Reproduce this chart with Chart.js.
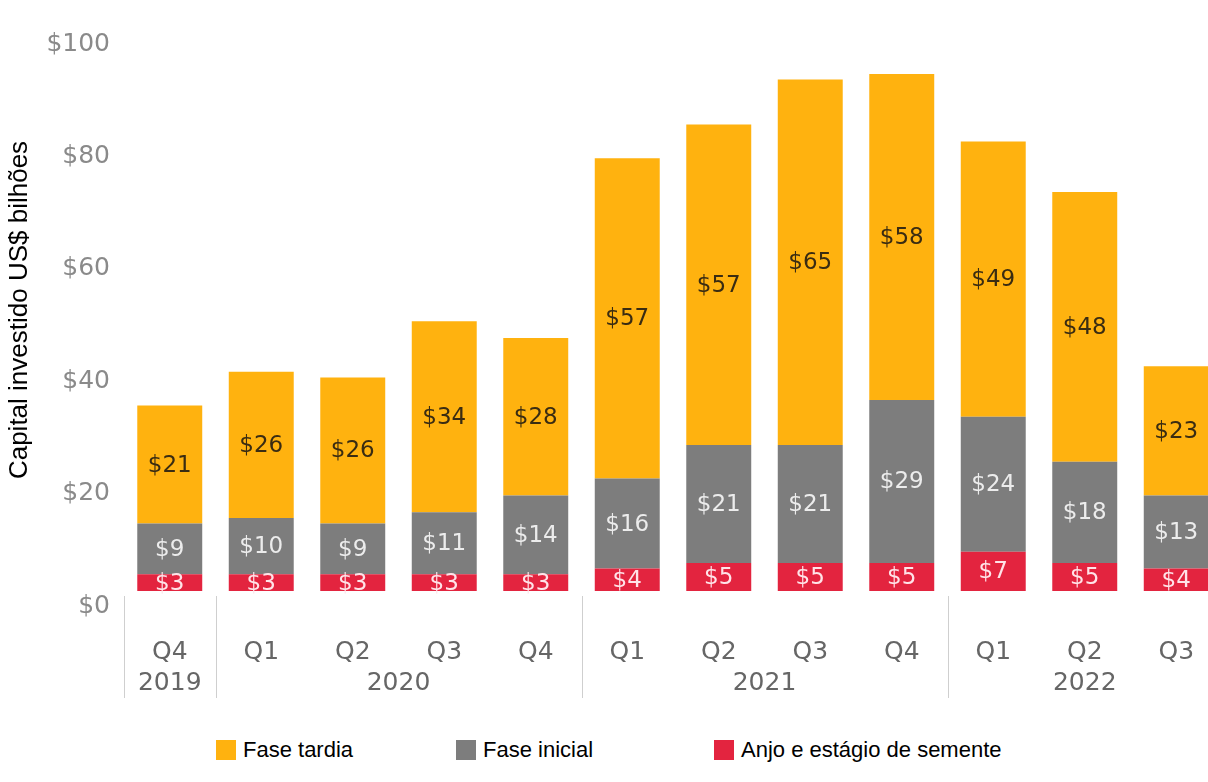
<!DOCTYPE html>
<html lang="pt-BR">
<head>
<meta charset="utf-8">
<script src="https://cdn.jsdelivr.net/npm/chart.js@4"></script>
<style>
  html, body { margin: 0; padding: 0; background: #fff; overflow: hidden; }
  #wrap { position: relative; width: 1222px; height: 712px; }
  .legenda { position: absolute; top: 738px; left: 0; width: 1208px; height: 26px;
             font: 22px "Liberation Sans", Arial, sans-serif; color: #000; }
  .legenda span { position: absolute; top: 0; white-space: nowrap; line-height: 24px; }
  .legenda i { display: inline-block; width: 20px; height: 20px; vertical-align: -3px; margin-right: 7px; }
</style>
</head>
<body>
<div id="wrap"><canvas id="grafico"></canvas></div>
<div class="legenda" id="legenda"></div>

<script>
// trimestres e anos (eixo x em dois níveis)
const trimestres = ['Q4', 'Q1', 'Q2', 'Q3', 'Q4', 'Q1', 'Q2', 'Q3', 'Q4', 'Q1', 'Q2', 'Q3'];
const anos = ['2019', '2020', '2020', '2020', '2020', '2021', '2021', '2021', '2021', '2022', '2022', '2022'];

// capital investido, US$ bilhões
const faseTardia = [21, 26, 26, 34, 28, 57, 57, 65, 58, 49, 48, 23];
const faseInicial = [9, 10, 9, 11, 14, 16, 21, 21, 29, 24, 18, 13];
const anjoSemente = [3, 3, 3, 3, 3, 4, 5, 5, 5, 7, 5, 4];

const ticksY = [0, 20, 40, 60, 80, 100];

const cores = { tardia: '#ffb20f', inicial: '#7d7d7d', semente: '#e3243f' };
const corRotulo = ['#ffe3e8', '#ececec', '#3a2c12'];
const fonteEixo = '"DejaVu Sans", sans-serif';

// rótulos de valor dentro das barras + anos e separadores do eixo x
const rotulosPlugin = {
    id: 'rotulos',
    afterDatasetsDraw(chart) {
        const ctx = chart.ctx;
        ctx.save();
        ctx.font = '23px ' + fonteEixo;
        ctx.textAlign = 'center';
        ctx.textBaseline = 'middle';
        chart.data.datasets.forEach((ds, i) => {
            chart.getDatasetMeta(i).data.forEach((bar, j) => {
                ctx.fillStyle = corRotulo[i];
                ctx.fillText('$' + ds.data[j], bar.x, (bar.y + bar.base) / 2 + 1);
            });
        });

        const x = chart.scales.x;
        const meio = (x.getPixelForValue(1) - x.getPixelForValue(0)) / 2;
        const base = chart.chartArea.bottom;
        ctx.font = '25px ' + fonteEixo;
        let inicio = 0;
        for (let i = 1; i <= anos.length; i++) {
            if (i === anos.length || anos[i] !== anos[inicio]) {
                const esq = x.getPixelForValue(inicio) - meio;
                const dir = x.getPixelForValue(i - 1) + meio;
                ctx.strokeStyle = '#cfcfcf';
                ctx.lineWidth = 1;
                ctx.beginPath();
                ctx.moveTo(Math.round(esq) + 0.5, base + 5);
                ctx.lineTo(Math.round(esq) + 0.5, base + 107);
                ctx.stroke();
                ctx.fillStyle = '#666';
                ctx.fillText(anos[inicio], (esq + dir) / 2, base + 92);
                inicio = i;
            }
        }
        ctx.restore();
    }
};

const config = {
    type: 'bar',
    data: {
        labels: trimestres,
        datasets: [
            { label: 'Anjo e estágio de semente', data: anjoSemente, backgroundColor: cores.semente },
            { label: 'Fase inicial', data: faseInicial, backgroundColor: cores.inicial },
            { label: 'Fase tardia', data: faseTardia, backgroundColor: cores.tardia }
        ]
    },
    options: {
        responsive: false,
        animation: false,
        layout: { padding: { top: 26, left: 0, right: 0, bottom: 0 } },
        datasets: { bar: { categoryPercentage: 0.71, barPercentage: 1 } },
        scales: {
            x: {
                stacked: true,
                grid: { display: false, drawTicks: false },
                border: { display: false },
                ticks: { color: '#666', font: { size: 25, family: fonteEixo }, padding: 46 },
                afterFit(scale) {
                    scale.height = 121;
                    scale.paddingLeft = 0;
                    scale.paddingRight = 0;
                }
            },
            y: {
                stacked: true,
                min: 0,
                max: 100,
                afterBuildTicks(scale) { scale.ticks = ticksY.map(v => ({ value: v })); },
                grid: { display: false, drawTicks: false },
                border: { display: false },
                ticks: {
                    color: '#8a8a8a',
                    font: { size: 25, family: fonteEixo },
                    padding: 14,
                    labelOffset: 15,
                    callback: v => '$' + v
                },
                title: {
                    display: true,
                    text: 'Capital investido US$ bilhões',
                    color: '#000',
                    font: { size: 26, family: '"Liberation Sans", Arial, sans-serif' },
                    padding: { top: 4, bottom: 0 }
                },
                afterFit(scale) { scale.width = 124; }
            }
        },
        plugins: {
            legend: { display: false },
            tooltip: { enabled: false }
        }
    },
    plugins: [rotulosPlugin]
};

const canvas = document.getElementById('grafico');
canvas.width = 1222;
canvas.height = 712;
new Chart(canvas.getContext('2d'), config);

// legenda na ordem do gráfico original
const itens = [
    { texto: 'Fase tardia', cor: cores.tardia, x: 216 },
    { texto: 'Fase inicial', cor: cores.inicial, x: 456 },
    { texto: 'Anjo e estágio de semente', cor: cores.semente, x: 714 }
];
const legenda = document.getElementById('legenda');
itens.forEach(item => {
    const s = document.createElement('span');
    s.style.left = item.x + 'px';
    s.innerHTML = '<i style="background:' + item.cor + '"></i>' + item.texto;
    legenda.appendChild(s);
});
</script>
</body>
</html>
